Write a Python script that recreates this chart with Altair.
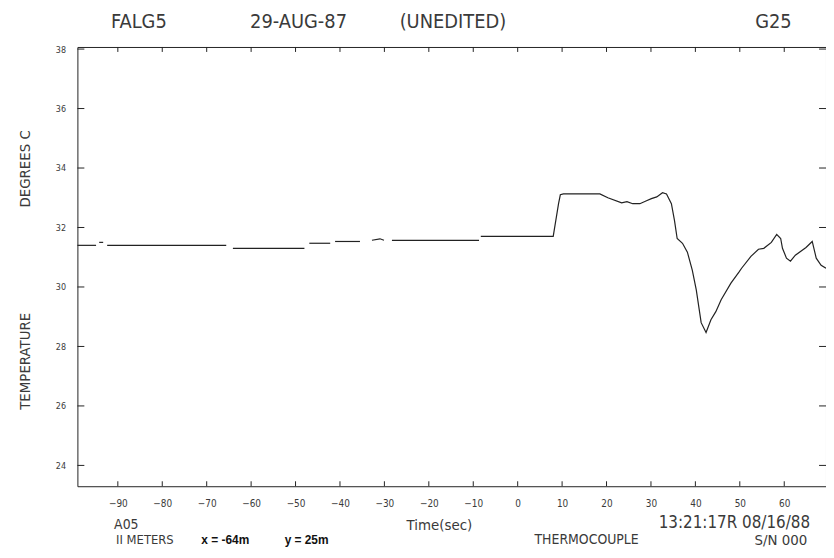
import altair as alt
import pandas as pd

# ---------------- data (one inner list per pen stroke) ----------------
time_s = [
    [-99.1, -94.9],
    [-94.2, -93.3],
    [-92.4, -65.6],
    [-64.1, -48.0],
    [-46.9, -42.2],
    [-41.1, -35.5],
    [-32.8, -31.0, -30.1],
    [-28.3, -8.7],
    [-8.3, 8.0, 9.2, 9.6, 10.3, 18.5, 20.3, 23.4, 24.6, 25.9, 27.5, 29.0,
     30.1, 31.3, 32.6, 33.5, 34.6, 35.3, 35.9, 37.1, 38.2, 39.3, 40.2, 41.3,
     42.4, 43.5, 44.6, 45.8, 48.0, 49.8, 50.4, 52.5, 54.2, 55.4, 57.1, 58.3,
     59.2, 59.6, 60.5, 61.4, 62.5, 64.9, 66.3, 67.2, 68.3, 69.4],
]
temp_c = [
    [31.40, 31.40],
    [31.50, 31.50],
    [31.40, 31.40],
    [31.30, 31.30],
    [31.47, 31.47],
    [31.53, 31.53],
    [31.57, 31.62, 31.57],
    [31.57, 31.57],
    [31.70, 31.70, 32.80, 33.10, 33.13, 33.13, 33.00, 32.83, 32.87, 32.80, 32.80, 32.90,
     32.97, 33.03, 33.17, 33.13, 32.80, 32.23, 31.63, 31.47, 31.17, 30.57, 29.90, 28.80,
     28.47, 28.90, 29.17, 29.57, 30.13, 30.50, 30.63, 31.03, 31.27, 31.30, 31.50, 31.77,
     31.63, 31.30, 30.97, 30.87, 31.07, 31.33, 31.53, 30.97, 30.73, 30.63],
]

x_ticks = [-90, -80, -70, -60, -50, -40, -30, -20, -10, 0, 10, 20, 30, 40, 50, 60]
y_ticks = [24, 26, 28, 30, 32, 34, 36, 38]

x_domain = [-99.1, 69.4]
y_domain = [23.3, 38.07]

W, H = 755, 443
FONT = "Liberation Sans Narrow, DejaVu Sans Condensed, DejaVu Sans, sans-serif"
INK = "#3a3a3a"

rows = []
for i, (ts, Ts) in enumerate(zip(time_s, temp_c)):
    for t, T in zip(ts, Ts):
        rows.append({"seg": i, "t": t, "T": T})
trace = pd.DataFrame(rows)
xt = pd.DataFrame({"v": x_ticks})
yt = pd.DataFrame({"v": y_ticks})

xs = alt.Scale(domain=x_domain, nice=False, zero=False)
ys = alt.Scale(domain=y_domain, nice=False, zero=False)

line = alt.Chart(trace).mark_line(color="#222222", strokeWidth=1.2).encode(
    x=alt.X("t:Q", scale=xs,
            axis=alt.Axis(values=x_ticks, title=None, ticks=False, domain=False, grid=False,
                          labelFont=FONT, labelFontSize=10, labelColor=INK, labelPadding=12)),
    y=alt.Y("T:Q", scale=ys,
            axis=alt.Axis(values=y_ticks, title=None, ticks=False, domain=False, grid=False,
                          labelFont=FONT, labelFontSize=9, labelColor=INK, labelPadding=12)),
    detail="seg:N",
    order="t:Q",
)

tick_bottom = alt.Chart(xt).mark_rule(color="#222", strokeWidth=1).encode(
    x=alt.X("v:Q", scale=xs), y=alt.value(H), y2=alt.value(H - 5))
tick_top = alt.Chart(xt).mark_rule(color="#222", strokeWidth=1).encode(
    x=alt.X("v:Q", scale=xs), y=alt.value(0), y2=alt.value(5))
tick_left = alt.Chart(yt).mark_rule(color="#222", strokeWidth=1).encode(
    y=alt.Y("v:Q", scale=ys), x=alt.value(0), x2=alt.value(7))
tick_right = alt.Chart(yt).mark_rule(color="#222", strokeWidth=1).encode(
    y=alt.Y("v:Q", scale=ys), x=alt.value(W), x2=alt.value(W - 7))


def label(text, x, y, size=13, align="left", angle=0, font=FONT, weight="normal", color=INK):
    return alt.Chart(pd.DataFrame({"s": [text]})).mark_text(
        align=align, baseline="middle", fontSize=size, font=font, fontWeight=weight,
        angle=angle, color=color).encode(text="s:N", x=alt.value(x), y=alt.value(y))


BOLD = "Liberation Sans, Arial, sans-serif"
texts = [
    label("FALG5", 62, -25, 20, "center"),
    label("29-AUG-87", 223, -25, 20, "center"),
    label("(UNEDITED)", 325, -25, 20, "left"),
    label("G25", 702, -25, 20, "center"),
    label("DEGREES C", -53, 123, 15, "center", 270),
    label("TEMPERATURE", -53, 317, 15, "center", 270),
    label("A05", 37, 482, 14, "left"),
    label("Time(sec)", 332, 482, 15, "left"),
    label("13:21:17R 08/16/88", 739, 480, 17, "right"),
    label("II METERS", 39, 497, 13, "left"),
    label("x = -64m", 125, 497, 12, "left", font=BOLD, weight="bold", color="#111"),
    label("y = 25m", 209, 497, 12, "left", font=BOLD, weight="bold", color="#111"),
    label("THERMOCOUPLE", 461, 497, 14, "left"),
    label("S/N 000", 736, 497, 15, "right"),
]

chart = alt.layer(line, tick_bottom, tick_top, tick_left, tick_right, *texts).properties(
    width=W, height=H,
    autosize=alt.AutoSizeParams(type="none"),
    padding={"left": 70, "top": 37, "right": 0, "bottom": 62},
    background="white",
).configure_view(stroke="#222", strokeWidth=1)

chart.save("out.html", embed_options={"renderer": "svg", "actions": False})
